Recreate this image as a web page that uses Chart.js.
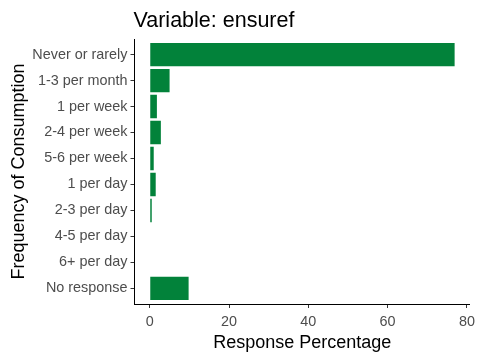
<!DOCTYPE html>
<html>
<head>
<meta charset="utf-8">
<script src="https://cdn.jsdelivr.net/npm/chart.js@4/dist/chart.umd.min.js"></script>
<style>
  html, body { margin: 0; padding: 0; background: #fff; }
  #chart { display: block; }
</style>
</head>
<body>
<canvas id="chart" width="480" height="360"></canvas>
<script>
"use strict";

const categories = [
  "Never or rarely", "1-3 per month", "1 per week", "2-4 per week", "5-6 per week",
  "1 per day", "2-3 per day", "4-5 per day", "6+ per day", "No response",
];
const percentages = [76.9, 5.0, 1.8, 2.8, 1.0, 1.5, 0.5, 0, 0, 9.8];
const xTicks = [0, 20, 40, 60, 80];
const titleText = "Variable: ensuref";

const FONT = "'Liberation Sans', Arial, sans-serif";
const GREEN = "#02823a";

// ggplot-style panel title, left-aligned with the plot panel
const panelTitle = {
  id: "panelTitle",
  afterDraw(chart) {
    const { ctx, chartArea } = chart;
    ctx.save();
    ctx.font = `21.5px ${FONT}`;
    ctx.fillStyle = "#000";
    ctx.textBaseline = "alphabetic";
    ctx.fillText(titleText, chartArea.left - 1, 27);
    ctx.restore();
  },
};

new Chart(document.getElementById("chart"), {
  type: "bar",
  data: {
    datasets: [{
      data: percentages.map((v, i) => ({ x: v, y: i + 1 })),
      backgroundColor: GREEN,
      borderWidth: 0,
      categoryPercentage: 0.9,
      barPercentage: 1,
    }],
  },
  plugins: [panelTitle],
  options: {
    indexAxis: "y",
    responsive: false,
    animation: false,
    devicePixelRatio: 1,
    layout: { padding: { top: 39, right: 10, left: 0, bottom: 0 } },
    plugins: { legend: { display: false }, tooltip: { enabled: false } },
    scales: {
      x: {
        type: "linear",
        min: -3.85,
        max: 80.75,
        afterBuildTicks: (s) => { s.ticks = xTicks.map((v) => ({ value: v })); },
        afterFit: (s) => { s.height = 56; },
        grid: { drawOnChartArea: false, tickLength: 4, tickColor: "#333", color: "#333" },
        border: { display: true, color: "#000", width: 1 },
        ticks: { color: "#4d4d4d", font: { family: FONT, size: 14.4 }, padding: 5, maxRotation: 0 },
        title: {
          display: true,
          text: "Response Percentage",
          color: "#000",
          font: { family: FONT, size: 18 },
          padding: { top: 0, bottom: 6 },
        },
      },
      y: {
        type: "linear",
        reverse: true,
        offset: false,
        min: 0.4,
        max: 10.6,
        afterBuildTicks: (s) => { s.ticks = categories.map((_, i) => ({ value: i + 1 })); },
        afterFit: (s) => { s.width = 134.5; },
        grid: { offset: false, drawOnChartArea: false, tickLength: 4, tickColor: "#333", color: "#333" },
        border: { display: true, color: "#000", width: 1 },
        ticks: {
          color: "#4d4d4d",
          font: { family: FONT, size: 14.4 },
          padding: 3,
          autoSkip: false,
          callback: (v) => categories[v - 1] ?? "",
        },
        title: {
          display: true,
          text: "Frequency of Consumption",
          color: "#000",
          font: { family: FONT, size: 18 },
          padding: { top: 8, bottom: 0 },
        },
      },
    },
  },
});
</script>
</body>
</html>
